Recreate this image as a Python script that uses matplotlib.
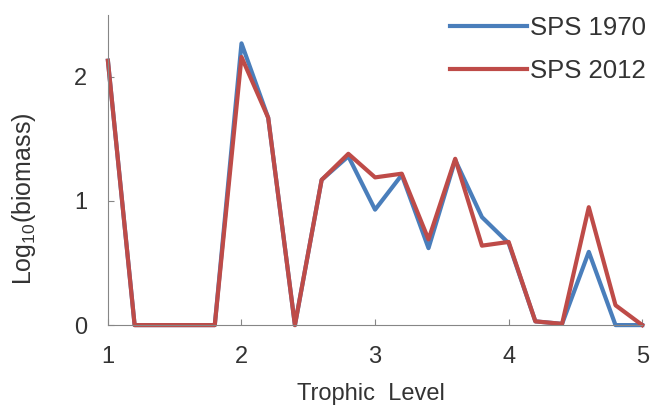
import matplotlib.pyplot as plt

plt.rcParams['font.family'] = ['Liberation Sans', 'DejaVu Sans']
plt.rcParams['mathtext.fontset'] = 'custom'
plt.rcParams['mathtext.rm'] = 'Liberation Sans'

level = [1.0, 1.2, 1.4, 1.6, 1.8, 2.0, 2.2, 2.4, 2.6, 2.8, 3.0,
         3.2, 3.4, 3.6, 3.8, 4.0, 4.2, 4.4, 4.6, 4.8, 5.0]
sps1970 = [2.13, 0, 0, 0, 0, 2.27, 1.67, 0, 1.17, 1.36, 0.93,
           1.21, 0.62, 1.33, 0.87, 0.66, 0.03, 0.01, 0.59, 0, 0]
sps2012 = [2.13, 0, 0, 0, 0, 2.16, 1.67, 0, 1.17, 1.38, 1.19,
           1.22, 0.69, 1.34, 0.64, 0.67, 0.03, 0.01, 0.95, 0.16, 0]

txt = '#333333'
fig = plt.figure(figsize=(6.54, 4.11), dpi=100)
ax = fig.add_axes([0.165, 0.209, 0.817, 0.755])
ax.plot(level, sps1970, color='#4a7ebb', lw=3, label='SPS 1970', clip_on=False)
ax.plot(level, sps2012, color='#be4b48', lw=3, label='SPS 2012', clip_on=False)

ax.set_xlim(1, 5)
ax.set_ylim(0, 2.5)
ax.set_xticks([1, 2, 3, 4, 5])
ax.set_yticks([0, 1, 2])
for s in ['top', 'right']:
    ax.spines[s].set_visible(False)
for s in ['left', 'bottom']:
    ax.spines[s].set_color('#868686')
ax.tick_params(direction='in', length=4, color='#868686', labelsize=17,
               labelcolor=txt, pad=15)
ax.set_xlabel('Trophic  Level', fontsize=17, color=txt)
ax.xaxis.set_label_coords(0.493, -0.185)
ax.set_ylabel(r'Log$_{\mathregular{10}}$(biomass)', fontsize=18, color=txt)
ax.yaxis.set_label_coords(-0.131, 0.406)

leg = ax.legend(loc='upper right', bbox_to_anchor=(1.05, 1.07), frameon=False,
                fontsize=18.5, handlelength=3, handletextpad=0.1, labelspacing=0.75)
for t in leg.get_texts():
    t.set_color(txt)

fig.savefig('out.png', dpi=100)
